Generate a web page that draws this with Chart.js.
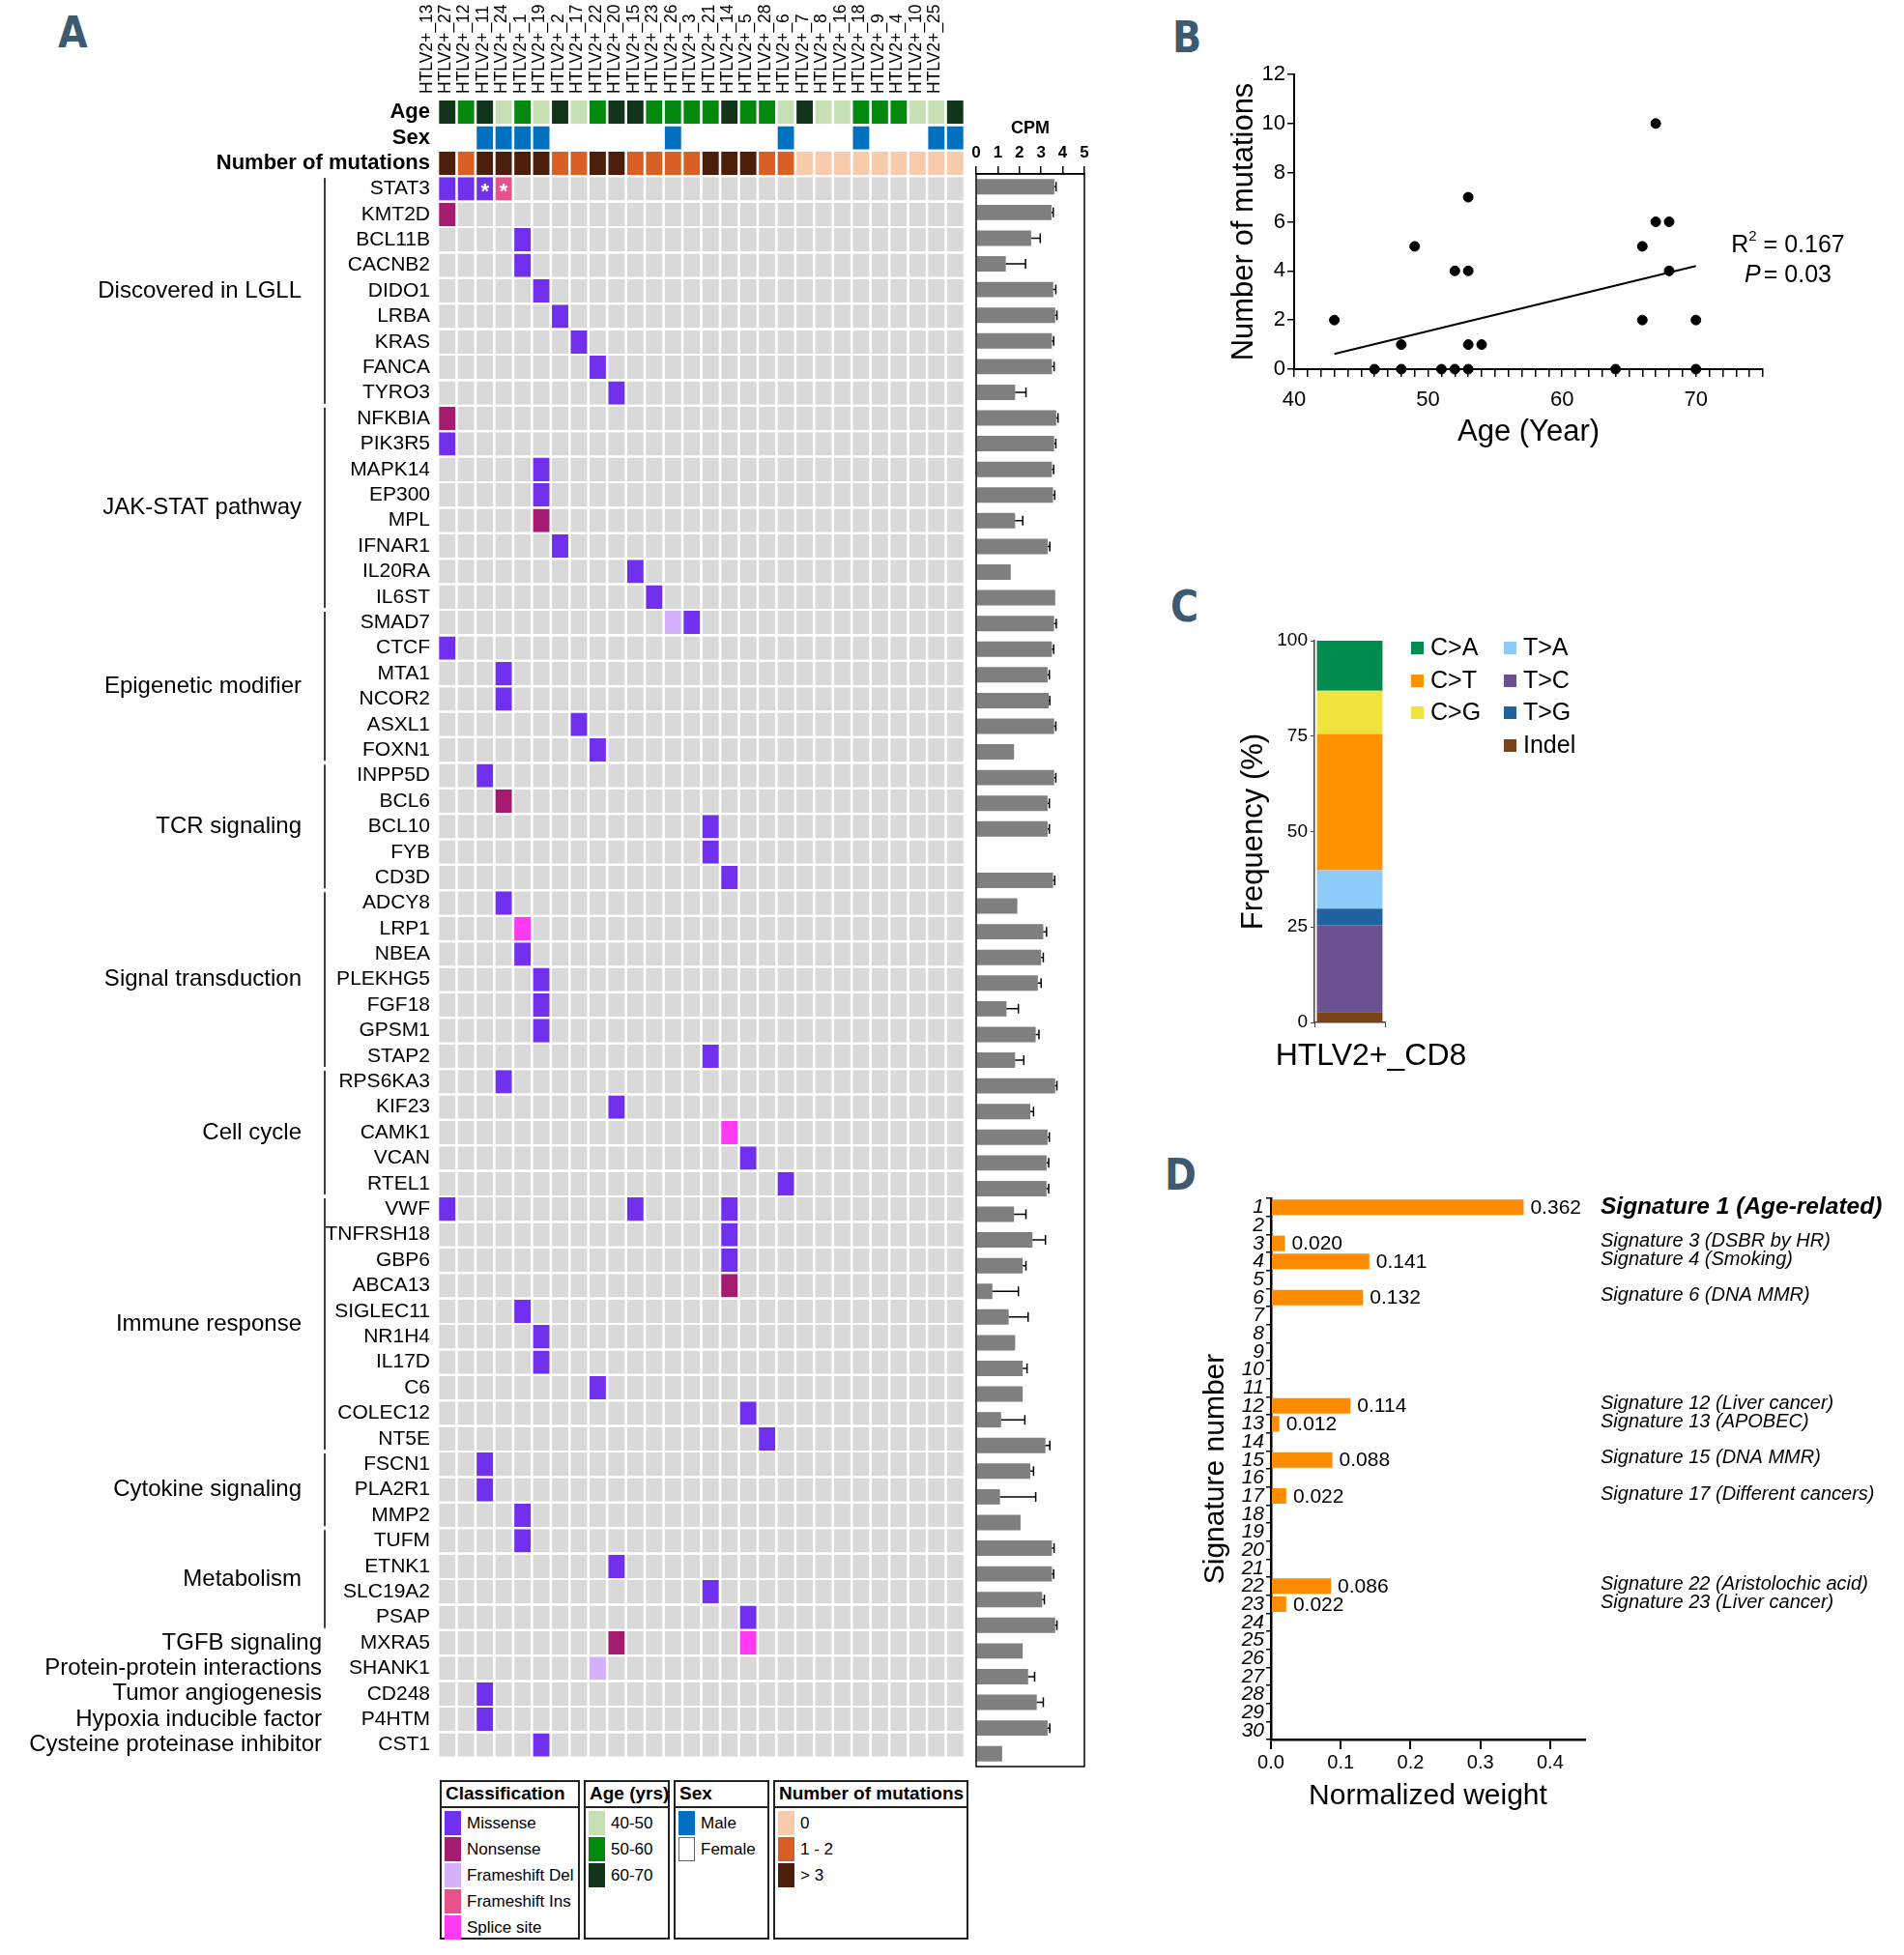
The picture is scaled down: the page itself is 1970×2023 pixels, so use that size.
<!DOCTYPE html>
<html>
<head>
<meta charset="utf-8">
<script src="https://cdn.jsdelivr.net/npm/chart.js@4.4.1/dist/chart.umd.min.js"></script>
<style>
  html, body { margin: 0; padding: 0; background: #fff; }
  body { width: 1970px; height: 2023px; position: relative; overflow: hidden; font-family: "Liberation Sans", Arial, sans-serif; color: #000; }
  canvas { position: absolute; }
  .panel { position: absolute; font-family: "Liberation Sans Narrow", "DejaVu Sans Condensed", "Liberation Sans", sans-serif; font-weight: bold; font-size: 44px; color: #3d5a71; line-height: 1; }
  .lbox { position: absolute; border: 2px solid #222; box-sizing: border-box; }
  .ltitle { font-weight: bold; font-size: 19px; padding: 1px 0 0 4px; white-space: nowrap; }
  .litem { position: absolute; left: 3px; height: 27px; font-size: 17px; white-space: nowrap; }
  .litem span.sw { position: absolute; left: 0; top: 1px; width: 17px; height: 25px; box-sizing: border-box; }
  .litem span.tx { position: absolute; left: 23px; top: 4px; }
  .cleg { position: absolute; font-size: 25px; white-space: nowrap; }
  .cleg span.sq { position: absolute; left: 0; top: 9px; width: 13px; height: 13px; }
  .cleg span.tx { position: absolute; left: 20px; top: 0; }
</style>
</head>
<body>
<div class="panel" style="left:60px;top:12px;">A</div>
<div class="panel" style="left:1213px;top:17px;">B</div>
<div class="panel" style="left:1211px;top:606px;">C</div>
<div class="panel" style="left:1205px;top:1194px;">D</div>

<canvas id="matrix" width="1005" height="1840" style="left:0;top:0;"></canvas>
<canvas id="cpm" width="140" height="1740" style="left:1000px;top:100px;"></canvas>
<canvas id="scatterB" width="720" height="430" style="left:1250px;top:40px;"></canvas>
<canvas id="stackC" width="720" height="480" style="left:1250px;top:640px;"></canvas>
<canvas id="sigD" width="770" height="700" style="left:1200px;top:1200px;"></canvas>
<div id="legendA"></div>
<div id="legendC"></div>

<script>
// ---------- panel A data ----------
const sampleIds = ['13','27','12','11','24','1','19','2','17','22','20','15','23','26','3','21','14','5','28','6','7','8','16','18','9','4','10','25'];
const sampleAge = ['60-70','50-60','60-70','40-50','50-60','40-50','60-70','40-50','50-60','60-70','60-70','50-60','50-60','50-60',
                   '50-60','60-70','50-60','50-60','40-50','60-70','40-50','40-50','50-60','50-60','50-60','40-50','40-50','60-70'];
const sampleSex = ['Female','Female','Male','Male','Male','Male','Female','Female','Female','Female','Female','Female','Male','Female',
                   'Female','Female','Female','Female','Male','Female','Female','Female','Male','Female','Female','Female','Male','Male'];
const sampleMutGroup = ['> 3','1 - 2','> 3','> 3','> 3','> 3','1 - 2','1 - 2','> 3','> 3','1 - 2','1 - 2','1 - 2','1 - 2',
                        '> 3','> 3','> 3','1 - 2','1 - 2','0','0','0','0','0','0','0','0','0'];

const headerRows = ['Age', 'Sex', 'Number of mutations'];
const genes = ['STAT3','KMT2D','BCL11B','CACNB2','DIDO1','LRBA','KRAS','FANCA','TYRO3',
  'NFKBIA','PIK3R5','MAPK14','EP300','MPL','IFNAR1','IL20RA','IL6ST',
  'SMAD7','CTCF','MTA1','NCOR2','ASXL1','FOXN1',
  'INPP5D','BCL6','BCL10','FYB','CD3D',
  'ADCY8','LRP1','NBEA','PLEKHG5','FGF18','GPSM1','STAP2',
  'RPS6KA3','KIF23','CAMK1','VCAN','RTEL1',
  'VWF','TNFRSH18','GBP6','ABCA13','SIGLEC11','NR1H4','IL17D','C6','COLEC12','NT5E',
  'FSCN1','PLA2R1','MMP2',
  'TUFM','ETNK1','SLC19A2','PSAP',
  'MXRA5','SHANK1','CD248','P4HTM','CST1'];
const groupNames = ['Discovered in LGLL','JAK-STAT pathway','Epigenetic modifier','TCR signaling','Signal transduction',
  'Cell cycle','Immune response','Cytokine signaling','Metabolism','TGFB signaling','Protein-protein interactions',
  'Tumor angiogenesis','Hypoxia inducible factor','Cysteine proteinase inhibitor'];
const groupSizes = [9, 8, 6, 5, 7, 5, 10, 3, 4, 1, 1, 1, 1, 1];

// [gene, sample, classification]
const mutations = [
  ['STAT3','13','Missense'],['STAT3','27','Missense'],['STAT3','12','Missense'],['STAT3','11','Frameshift Ins'],
  ['KMT2D','13','Nonsense'],['BCL11B','24','Missense'],['CACNB2','24','Missense'],['DIDO1','1','Missense'],
  ['LRBA','19','Missense'],['KRAS','2','Missense'],['FANCA','17','Missense'],['TYRO3','22','Missense'],
  ['NFKBIA','13','Nonsense'],['PIK3R5','13','Missense'],['MAPK14','1','Missense'],['EP300','1','Missense'],
  ['MPL','1','Nonsense'],['IFNAR1','19','Missense'],['IL20RA','20','Missense'],['IL6ST','15','Missense'],
  ['SMAD7','23','Frameshift Del'],['SMAD7','26','Missense'],['CTCF','13','Missense'],['MTA1','11','Missense'],
  ['NCOR2','11','Missense'],['ASXL1','2','Missense'],['FOXN1','17','Missense'],['INPP5D','12','Missense'],
  ['BCL6','11','Nonsense'],['BCL10','3','Missense'],['FYB','3','Missense'],['CD3D','21','Missense'],
  ['ADCY8','11','Missense'],['LRP1','24','Splice site'],['NBEA','24','Missense'],['PLEKHG5','1','Missense'],
  ['FGF18','1','Missense'],['GPSM1','1','Missense'],['STAP2','3','Missense'],['RPS6KA3','11','Missense'],
  ['KIF23','22','Missense'],['CAMK1','21','Splice site'],['VCAN','14','Missense'],['RTEL1','28','Missense'],
  ['VWF','13','Missense'],['VWF','20','Missense'],['VWF','21','Missense'],['TNFRSH18','21','Missense'],
  ['GBP6','21','Missense'],['ABCA13','21','Nonsense'],['SIGLEC11','24','Missense'],['NR1H4','1','Missense'],
  ['IL17D','1','Missense'],['C6','17','Missense'],['COLEC12','14','Missense'],['NT5E','5','Missense'],
  ['FSCN1','12','Missense'],['PLA2R1','12','Missense'],['MMP2','24','Missense'],['TUFM','24','Missense'],
  ['ETNK1','22','Missense'],['SLC19A2','3','Missense'],['PSAP','14','Missense'],['MXRA5','22','Nonsense'],
  ['MXRA5','14','Splice site'],['SHANK1','17','Frameshift Del'],['CD248','12','Missense'],['P4HTM','12','Missense'],
  ['CST1','1','Missense']
];
const starMarks = [['STAT3','12'], ['STAT3','11']];

// CPM bar (mean) and error (sd), one per gene, null = no bar
const cpmMean = [3.61,3.48,2.54,1.37,3.56,3.65,3.5,3.5,1.8,
  3.7,3.6,3.5,3.55,1.8,3.3,1.6,3.65,
  3.6,3.5,3.3,3.35,3.6,1.75,
  3.6,3.3,3.3,null,3.55,
  1.9,3.1,3.0,2.85,1.4,2.75,1.8,
  3.65,2.5,3.3,3.25,3.25,
  1.75,2.6,2.15,0.75,1.5,1.8,2.15,2.15,1.15,3.2,
  2.5,1.1,2.05,
  3.5,3.5,3.05,3.65,
  2.15,2.4,2.8,3.3,1.2];
const cpmSd = [0.08,0.08,0.42,0.91,0.12,0.08,0.08,0.1,0.5,
  0.08,0.08,0.08,0.08,0.35,0.1,0,0,
  0.1,0.08,0.08,0.05,0.08,0,
  0.08,0.08,0.08,0,0.08,
  0,0.15,0.1,0.15,0.55,0.15,0.4,
  0.08,0.15,0.08,0.1,0.1,
  0.55,0.6,0.15,1.2,0.9,0,0.2,0,1.1,0.2,
  0.15,1.65,0,
  0.1,0.08,0.1,0.08,
  0,0.3,0.3,0.1,0];

const classTypes = ['Missense','Nonsense','Frameshift Del','Frameshift Ins','Splice site'];
const ageGroups = ['40-50','50-60','60-70'];
const sexGroups = ['Male','Female'];
const mutGroups = ['0','1 - 2','> 3'];

// ---------- panel B data ----------
const scatterAge = [43,46,48,48,49,51,52,52,53,53,53,53,54,64,66,66,67,67,68,68,70,70];
const scatterMut = [2,0,0,1,5,0,0,4,0,1,4,7,1,0,2,5,6,10,6,4,2,0];
const regAge = [43, 70];
const regMut = [0.62, 4.2];

// ---------- panel C data (bottom to top) ----------
const sampleC = ['HTLV2+_CD8'];
const subTypes = ['Indel','T>C','T>G','T>A','C>T','C>G','C>A'];
const subFreq = [2.7, 22.8, 4.3, 10.1, 35.7, 11.3, 13.1];
const legendColsC = [['C>A','C>T','C>G'], ['T>A','T>C','T>G','Indel']];

// ---------- panel D data ----------
const sigIds = Array.from({length: 30}, (_, i) => String(i + 1));
const sigWeight = [0.362,null,0.020,0.141,null,0.132,null,null,null,null,null,0.114,0.012,null,0.088,null,0.022,
  null,null,null,null,0.086,0.022,null,null,null,null,null,null,null];
const sigTicks = [0, 0.1, 0.2, 0.3, 0.4];
const sigNoteIds = ['1','3','4','6','12','13','15','17','22','23'];
const sigNotes = ['Signature 1 (Age-related)','Signature 3 (DSBR by HR)','Signature 4 (Smoking)','Signature 6 (DNA MMR)',
  'Signature 12 (Liver cancer)','Signature 13 (APOBEC)','Signature 15 (DNA MMR)','Signature 17 (Different cancers)',
  'Signature 22 (Aristolochic acid)','Signature 23 (Liver cancer)'];

// ---------- colours ----------
const palette = {
  empty: '#d9d9d9',
  cls: {'Missense':'#7030ee','Nonsense':'#a51b70','Frameshift Del':'#d5b1f9','Frameshift Ins':'#e8528b','Splice site':'#ff3af0'},
  age: {'40-50':'#c6e0b4','50-60':'#04890f','60-70':'#12341a'},
  sex: {'Male':'#0070c0','Female':'#ffffff'},
  mut: {'0':'#f8cbad','1 - 2':'#d95f24','> 3':'#4b1f0b'},
  sub: {'C>A':'#008c4f','C>T':'#ff9200','C>G':'#f2e43e','T>A':'#8ecbf8','T>C':'#6b5190','T>G':'#1f64a0','Indel':'#7a4418'}
};

const FONT = '"Liberation Sans", Arial, sans-serif';
Chart.defaults.font.family = FONT;
Chart.defaults.color = '#000';
Chart.defaults.animation = false;
Chart.defaults.plugins.legend.display = false;
Chart.defaults.plugins.tooltip.enabled = false;

const rowLabels = headerRows.concat(genes);

function cellColor(r, c) {
  if (r === 0) return palette.age[sampleAge[c]];
  if (r === 1) return palette.sex[sampleSex[c]];
  if (r === 2) return palette.mut[sampleMutGroup[c]];
  const m = mutations.find(m => m[0] === rowLabels[r] && m[1] === sampleIds[c]);
  return m ? palette.cls[m[2]] : palette.empty;
}

// group labels, brackets and asterisks on the oncoprint
const matrixExtras = {
  id: 'matrixExtras',
  afterDraw(chart) {
    const {ctx} = chart;
    const x = chart.scales.x, y = chart.scales.y;
    const half = (y.getPixelForValue(1) - y.getPixelForValue(0)) / 2;
    ctx.save();
    ctx.fillStyle = '#fff';
    ctx.font = 'bold 22px ' + FONT;
    ctx.textAlign = 'center';
    ctx.textBaseline = 'middle';
    starMarks.forEach(([g, s]) => {
      ctx.fillText('*', x.getPixelForValue(sampleIds.indexOf(s) + 0.5), y.getPixelForValue(rowLabels.indexOf(g)) + 4);
    });

    ctx.fillStyle = '#000';
    ctx.strokeStyle = '#000';
    ctx.lineWidth = 1.5;
    ctx.font = '24px ' + FONT;
    ctx.textAlign = 'right';
    let start = headerRows.length;
    groupNames.forEach((name, i) => {
      const n = groupSizes[i];
      const top = y.getPixelForValue(start) - half + 2;
      const bot = y.getPixelForValue(start + n - 1) + half - 2;
      if (n > 1) {
        ctx.beginPath();
        ctx.moveTo(336, top);
        ctx.lineTo(336, bot);
        ctx.stroke();
        ctx.fillText(name, 312, (top + bot) / 2);
      } else {
        ctx.fillText(name, 333, (top + bot) / 2);
      }
      start += n;
    });
    ctx.restore();
  }
};

new Chart(document.getElementById('matrix'), {
  type: 'bar',
  data: {
    labels: rowLabels,
    datasets: sampleIds.map((s, c) => ({
      label: 'HTLV2+_' + s,
      data: rowLabels.map(() => 1),
      backgroundColor: rowLabels.map((_, r) => cellColor(r, c)),
      borderColor: '#ffffff',
      borderWidth: {left: 1.3, right: 1.3, top: 0, bottom: 0},
      borderSkipped: false,
      inflateAmount: 0,
      barPercentage: 0.92,
      categoryPercentage: 1
    }))
  },
  options: {
    indexAxis: 'y',
    responsive: false,
    layout: {padding: {left: 0, right: 7, top: 0, bottom: 13}},
    scales: {
      x: {
        type: 'linear', position: 'top', min: 0, max: sampleIds.length, stacked: true,
        grid: {display: false, drawTicks: false}, border: {display: false},
        ticks: {autoSkip: false, minRotation: 90, maxRotation: 90, padding: 6, font: {size: 17.5},
          callback: (v, i) => 'HTLV2+_' + sampleIds[i]},
        afterBuildTicks: s => { s.ticks = sampleIds.map((_, i) => ({value: i + 0.5})); },
        afterFit: s => { s.height = 103; }
      },
      y: {
        stacked: true,
        grid: {display: false, drawTicks: false}, border: {display: false},
        ticks: {autoSkip: false, padding: 8,
          font: ctx => ctx.index < headerRows.length ? {size: 22, weight: 'bold'} : {size: 21}},
        afterFit: s => { s.width = 453; }
      }
    }
  },
  plugins: [matrixExtras]
});

// CPM side bars with error bars and frame
const cpmExtras = {
  id: 'cpmExtras',
  afterDatasetsDraw(chart) {
    const {ctx, chartArea: a} = chart;
    const x = chart.scales.x, y = chart.scales.y;
    ctx.save();
    ctx.strokeStyle = '#000';
    ctx.lineWidth = 1.5;
    cpmMean.forEach((m, i) => {
      if (m == null || !cpmSd[i]) return;
      const py = y.getPixelForValue(i);
      const x0 = x.getPixelForValue(m), x1 = x.getPixelForValue(m + cpmSd[i]);
      ctx.beginPath();
      ctx.moveTo(x0, py); ctx.lineTo(x1, py);
      ctx.moveTo(x1, py - 5); ctx.lineTo(x1, py + 5);
      ctx.stroke();
    });
    ctx.strokeRect(a.left, a.top, a.width, a.height);
    ctx.restore();
  }
};

new Chart(document.getElementById('cpm'), {
  type: 'bar',
  data: {labels: genes, datasets: [{data: cpmMean, backgroundColor: '#7f7f7f', barPercentage: 0.6, categoryPercentage: 1}]},
  options: {
    indexAxis: 'y',
    responsive: false,
    layout: {padding: {left: 10, right: 18, top: 0, bottom: 12}},
    scales: {
      x: {
        type: 'linear', position: 'top', min: 0, max: 5,
        ticks: {stepSize: 1, padding: 3, font: {size: 17, weight: 'bold'}},
        grid: {drawOnChartArea: false, tickLength: 8, color: '#000', lineWidth: 1.5},
        border: {color: '#000', width: 1.5},
        title: {display: true, text: 'CPM', font: {size: 18, weight: 'bold'}, padding: {top: 22, bottom: 22}},
        afterFit: s => { s.height = 80; }
      },
      y: {display: false}
    }
  },
  plugins: [cpmExtras]
});

// ---------- panel B ----------
const statsText = {
  id: 'statsText',
  afterDraw(chart) {
    const {ctx} = chart;
    const cx = 600;
    ctx.save();
    ctx.fillStyle = '#000';
    ctx.textBaseline = 'middle';
    ctx.textAlign = 'left';
    ctx.font = '25px ' + FONT;
    const r1 = 'R', r2 = ' = 0.167';
    const wR = ctx.measureText(r1).width, w2 = ctx.measureText(r2).width;
    ctx.font = '15px ' + FONT;
    const wS = ctx.measureText('2').width;
    let x0 = cx - (wR + wS + w2) / 2;
    ctx.font = '25px ' + FONT;
    ctx.fillText(r1, x0, 214);
    ctx.font = '15px ' + FONT;
    ctx.fillText('2', x0 + wR, 205);
    ctx.font = '25px ' + FONT;
    ctx.fillText(r2, x0 + wR + wS, 214);
    ctx.font = 'italic 25px ' + FONT;
    const wP = ctx.measureText('P').width;
    ctx.font = '25px ' + FONT;
    const wV = ctx.measureText('= 0.03').width;
    x0 = cx - (wP + 3 + wV) / 2;
    ctx.font = 'italic 25px ' + FONT;
    ctx.fillText('P', x0, 245);
    ctx.font = '25px ' + FONT;
    ctx.fillText('= 0.03', x0 + wP + 3, 245);
    ctx.restore();
  }
};

new Chart(document.getElementById('scatterB'), {
  type: 'scatter',
  data: {
    datasets: [
      {type: 'line', data: regAge.map((a, i) => ({x: a, y: regMut[i]})), borderColor: '#000', borderWidth: 2, pointRadius: 0, fill: false},
      {data: scatterAge.map((a, i) => ({x: a, y: scatterMut[i]})), backgroundColor: '#000', borderColor: '#000', pointRadius: 5, clip: false}
    ]
  },
  options: {
    responsive: false,
    layout: {padding: {left: 0, right: 146, top: 37, bottom: 0}},
    scales: {
      x: {
        type: 'linear', min: 40, max: 75,
        ticks: {stepSize: 1, autoSkip: false, maxRotation: 0, padding: 11, font: {size: 22},
          callback: v => (v % 10 === 0 && v <= 70) ? v : ''},
        grid: {drawOnChartArea: false, tickLength: 8, color: '#000', lineWidth: 1.5},
        border: {color: '#000', width: 2},
        title: {display: true, text: 'Age (Year)', font: {size: 31}, padding: {top: 4, bottom: 4}},
        afterFit: s => { s.height = 88; }
      },
      y: {
        min: 0, max: 12,
        ticks: {stepSize: 2, padding: 2, font: {size: 22}},
        grid: {drawOnChartArea: false, tickLength: 7, color: '#000', lineWidth: 1.5},
        border: {color: '#000', width: 2},
        title: {display: true, text: 'Number of mutations', font: {size: 31}, padding: {top: 19, bottom: 19}},
        afterFit: s => { s.width = 89; }
      }
    }
  },
  plugins: [statsText]
});

// ---------- panel C ----------
// the category label is wider than the bar, so it is written under the tick by hand
const stackLabel = {
  id: 'stackLabel',
  afterDraw(chart) {
    const {ctx, chartArea: a} = chart;
    const x = chart.scales.x;
    ctx.save();
    ctx.fillStyle = '#000';
    ctx.font = '32px ' + FONT;
    ctx.textAlign = 'center';
    ctx.textBaseline = 'middle';
    sampleC.forEach((s, i) => ctx.fillText(s, x.getPixelForValue(i) + 22, a.bottom + 35));
    ctx.restore();
  }
};

new Chart(document.getElementById('stackC'), {
  type: 'bar',
  data: {
    labels: sampleC,
    datasets: subTypes.map((t, i) => ({label: t, data: [subFreq[i]], backgroundColor: palette.sub[t], barPercentage: 0.93, categoryPercentage: 1}))
  },
  options: {
    responsive: false,
    layout: {padding: {left: 0, right: 537, top: 23, bottom: 0}},
    scales: {
      x: {
        stacked: true,
        ticks: {display: false},
        grid: {drawOnChartArea: false, tickLength: 5, color: '#444'},
        border: {color: '#444', width: 1.5},
        afterFit: s => { s.height = 62; }
      },
      y: {
        stacked: true, min: 0, max: 100,
        ticks: {stepSize: 25, padding: 3, font: {size: 19}},
        grid: {drawOnChartArea: false, tickLength: 4, color: '#444'},
        border: {color: '#444', width: 1.5},
        title: {display: true, text: 'Frequency (%)', font: {size: 31}, padding: {top: 29, bottom: 29}},
        afterFit: s => { s.width = 110; }
      }
    }
  },
  plugins: [stackLabel]
});

// ---------- panel D ----------
const sigExtras = {
  id: 'sigExtras',
  afterDatasetsDraw(chart) {
    const {ctx, chartArea: a} = chart;
    const x = chart.scales.x, y = chart.scales.y;
    ctx.save();
    ctx.fillStyle = '#000';
    ctx.textBaseline = 'middle';
    ctx.textAlign = 'left';
    ctx.font = '21px ' + FONT;
    sigWeight.forEach((v, i) => {
      if (v == null) return;
      ctx.fillText(v.toFixed(3), x.getPixelForValue(v) + 7, y.getPixelForValue(i) + 1);
    });
    sigNoteIds.forEach((id, k) => {
      ctx.font = (k === 0 ? 'italic bold 24.5px ' : 'italic 20px ') + FONT;
      ctx.fillText(sigNotes[k], a.right + 16, y.getPixelForValue(sigIds.indexOf(id)) + (k === 0 ? 0 : -2));
    });
    ctx.restore();
  }
};

new Chart(document.getElementById('sigD'), {
  type: 'bar',
  data: {labels: sigIds, datasets: [{data: sigWeight, backgroundColor: '#ff8c00', barPercentage: 0.86, categoryPercentage: 1}]},
  options: {
    indexAxis: 'y',
    responsive: false,
    layout: {padding: {left: 0, right: 330, top: 40, bottom: 0}},
    scales: {
      x: {
        min: 0, max: 0.45,
        ticks: {padding: 2, font: {size: 20}, maxRotation: 0, callback: v => v.toFixed(1)},
        afterBuildTicks: s => { s.ticks = sigTicks.map(v => ({value: v})); },
        grid: {drawOnChartArea: false, tickLength: 10, color: '#000', lineWidth: 2},
        border: {color: '#000', width: 2.5},
        title: {display: true, text: 'Normalized weight', font: {size: 30}, padding: {top: 23, bottom: 23}},
        afterFit: s => { s.height = 100; }
      },
      y: {
        ticks: {autoSkip: false, padding: 2, font: {size: 21, style: 'italic'}},
        grid: {drawOnChartArea: false, tickLength: 5, color: '#000', lineWidth: 1.5},
        border: {color: '#000', width: 2.5},
        title: {display: true, text: 'Signature number', font: {size: 30}, padding: {top: 40, bottom: 40}},
        afterFit: s => { s.width = 115; }
      }
    }
  },
  plugins: [sigExtras]
});

// ---------- HTML legends ----------
function legendBox(left, width, title, names, colors) {
  const host = document.getElementById('legendA');
  const t = document.createElement('div');
  t.className = 'lbox';
  Object.assign(t.style, {left: left + 'px', top: '1842px', width: width + 'px', height: '29px'});
  t.innerHTML = '<div class="ltitle">' + title + '</div>';
  host.appendChild(t);
  const b = document.createElement('div');
  b.className = 'lbox';
  Object.assign(b.style, {left: left + 'px', top: '1869px', width: width + 'px', height: '138px'});
  names.forEach((n, i) => {
    const it = document.createElement('div');
    it.className = 'litem';
    it.style.top = (2 + i * 27) + 'px';
    const c = colors[n];
    const border = c.toLowerCase() === '#ffffff' ? 'border:1.5px solid #666;' : '';
    it.innerHTML = '<span class="sw" style="background:' + c + ';' + border + '"></span><span class="tx">' + n + '</span>';
    b.appendChild(it);
  });
  host.appendChild(b);
}
legendBox(455, 145, 'Classification', classTypes, palette.cls);
legendBox(604, 89, 'Age (yrs)', ageGroups, palette.age);
legendBox(697, 99, 'Sex', sexGroups, palette.sex);
legendBox(800, 202, 'Number of mutations', mutGroups, palette.mut);

const legC = document.getElementById('legendC');
const colLeft = [1460, 1556];
legendColsC.forEach((col, ci) => {
  col.forEach((t, ri) => {
    const d = document.createElement('div');
    d.className = 'cleg';
    d.style.left = colLeft[ci] + 'px';
    d.style.top = (655 + ri * 33.5) + 'px';
    d.innerHTML = '<span class="sq" style="background:' + palette.sub[t] + '"></span><span class="tx">' + t.replace('>', '&gt;') + '</span>';
    legC.appendChild(d);
  });
});
</script>
</body>
</html>
